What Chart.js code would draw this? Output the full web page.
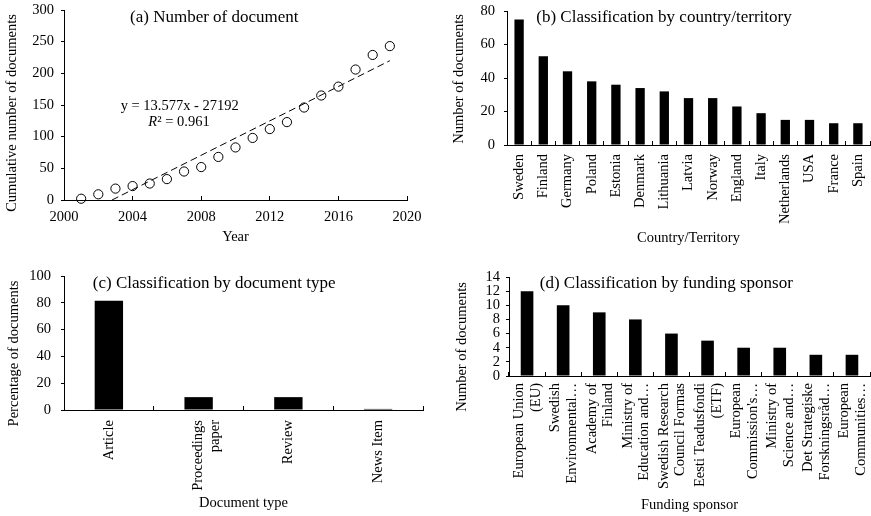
<!DOCTYPE html>
<html><head><meta charset="utf-8">
<script src="https://cdn.jsdelivr.net/npm/chart.js@4.4.1/dist/chart.umd.min.js"></script>
<style>
html,body{margin:0;padding:0;background:#fff;}
body{width:871px;height:516px;position:relative;overflow:hidden;}
canvas{position:absolute;left:0;top:0;}
</style></head><body>
<canvas id="ca" width="871" height="516"></canvas>
<canvas id="cb" width="871" height="516"></canvas>
<canvas id="cc" width="871" height="516"></canvas>
<canvas id="cd" width="871" height="516"></canvas>
<script>
// ---------- data ----------
const years = [2001,2002,2003,2004,2005,2006,2007,2008,2009,2010,2011,2012,2013,2014,2015,2016,2017,2018,2019];
const cumulativeDocs = [2,9,18,22,26,33,45,52,68,83,98,112,123,146,165,179,206,229,243];
const trendYears = [2002.8, 2019];
const trendValues = [0, 220];

const countries = ['Sweden','Finland','Germany','Poland','Estonia','Denmark','Lithuania','Latvia','Norway','England','Italy','Netherlands','USA','France','Spain'];
const countryDocs = [75,53,44,38,36,34,32,28,28,23,19,15,15,13,13];

const docTypes = ['Article',['Proceedings','paper'],'Review','News Item'];
const docTypePct = [81.6,9.6,9.6,0.8];

const sponsors = [
  ['European Union','(EU)'],
  ['Swedish','Environmental\u2026'],
  ['Academy of','Finland'],
  ['Ministry of','Education and\u2026'],
  ['Swedish Research','Council Formas'],
  ['Eesti Teadusfondi','(ETF)'],
  ['European','Commission\'s\u2026'],
  ['Ministry of','Science and\u2026'],
  ['Det Strategiske','Forskningsr\u00e5d\u2026'],
  ['European','Communities\u2026']
];
const sponsorDocs = [12,10,9,8,6,5,4,4,3,3];

const yTicksA = {min:0,max:300,step:50};
const xTicksA = {min:2000,max:2020,step:4};
const yTicksB = {min:0,max:80,step:20};
const yTicksC = {min:0,max:100,step:20};
const yTicksD = {min:0,max:14,step:2};

// ---------- styling ----------
const FONT = "'Liberation Serif','Times New Roman',serif";
Chart.defaults.color = '#000';
Chart.defaults.font.family = FONT;
Chart.defaults.font.size = 14.5;

const textPlugin = {
  id: 'texts',
  afterDraw(chart, args, opts) {
    const ctx = chart.ctx;
    (opts.items || []).forEach(it => {
      ctx.save();
      ctx.fillStyle = '#000';
      ctx.translate(it.x, it.y);
      if (it.rot) ctx.rotate(it.rot);
      ctx.textBaseline = it.baseline || 'middle';
      const size = it.size || 14.5;
      const parts = it.parts || [{t: it.text}];
      let total = 0;
      parts.forEach(p => { ctx.font = (p.italic ? 'italic ' : '') + size + 'px ' + FONT; p.w = ctx.measureText(p.t).width; total += p.w; });
      let x = -total / 2;
      ctx.textAlign = 'left';
      parts.forEach(p => { ctx.font = (p.italic ? 'italic ' : '') + size + 'px ' + FONT; ctx.fillText(p.t, x, 0); x += p.w; });
      ctx.restore();
    });
  }
};

function yScale(t, width, pad) {
  return {
    min: t.min, max: t.max,
    ticks: {stepSize: t.step, autoSkip: false, padding: pad, color: '#000'},
    grid: {display: true, drawOnChartArea: false, drawTicks: true, tickLength: 3, color: '#000', lineWidth: 1},
    border: {display: true, color: '#000', width: 1},
    afterFit(s) { s.width = width; s.paddingTop = 0; s.paddingBottom = 0; }
  };
}
function xCat(height, pad, title, titlePad, labelOffset) {
  return {
    type: 'category',
    ticks: {autoSkip: false, minRotation: 90, maxRotation: 90, padding: pad, color: '#000', labelOffset: labelOffset || 0,
            font: {size: 14.5, lineHeight: 1.15}},
    grid: {display: true, drawOnChartArea: false, drawTicks: true, tickLength: -4, color: '#000', lineWidth: 1, offset: true},
    border: {display: true, color: '#000', width: 1},
    title: {display: true, text: title, color: '#000', font: {size: 14.5}, padding: {top: 0, bottom: titlePad}},
    afterFit(s) { s.height = height; s.paddingLeft = 0; s.paddingRight = 0; }
  };
}
const baseOpts = {responsive: false, animation: false, events: []};

// ---------- (a) ----------
new Chart(document.getElementById('ca'), {
  type: 'scatter',
  data: {datasets: [
    {data: years.map((y, i) => ({x: y, y: cumulativeDocs[i]})), pointStyle: 'circle', pointRadius: 4.6,
     borderColor: '#000', backgroundColor: 'rgba(0,0,0,0)', pointBorderWidth: 1, borderWidth: 1, showLine: false, clip: false},
    {data: trendYears.map((y, i) => ({x: y, y: trendValues[i]})), showLine: true, borderColor: '#000', borderWidth: 1,
     borderDash: [7, 4], pointRadius: 0, fill: false}
  ]},
  options: Object.assign({}, baseOpts, {
    layout: {padding: {left: 0, top: 10, right: 464, bottom: 266}},
    plugins: {legend: {display: false}, tooltip: {enabled: false},
      texts: {items: [
        {text: '(a) Number of document', x: 214.3, y: 17.5, size: 17},
        {text: 'y = 13.577x - 27192', x: 179.7, y: 110, baseline: 'alphabetic'},
        {parts: [{t: 'R', italic: true}, {t: '\u00b2 = 0.961'}], x: 179, y: 126, baseline: 'alphabetic'},
        {text: 'Cumulative number of documents', x: 12, y: 113, rot: -Math.PI / 2}
      ]}},
    scales: {
      x: {type: 'linear', min: xTicksA.min, max: xTicksA.max,
          ticks: {stepSize: xTicksA.step, padding: 12, color: '#000', callback: v => String(v)},
          grid: {display: true, drawOnChartArea: false, drawTicks: true, tickLength: -4, color: '#000', lineWidth: 1},
          border: {display: true, color: '#000', width: 1},
          title: {display: true, text: 'Year', color: '#000', font: {size: 14.5}, padding: {top: 0, bottom: 3.8}},
          afterFit(s) { s.height = 50; s.paddingLeft = 0; s.paddingRight = 0; }},
      y: yScale(yTicksA, 64, 7)
    }
  }),
  plugins: [textPlugin]
});

// ---------- (b) ----------
new Chart(document.getElementById('cb'), {
  type: 'bar',
  data: {labels: countries, datasets: [{data: countryDocs, backgroundColor: '#000', borderWidth: 0, barPercentage: 0.385, categoryPercentage: 1}]},
  options: Object.assign({}, baseOpts, {
    layout: {padding: {left: 440, top: 11, right: 1, bottom: 266}},
    plugins: {legend: {display: false}, tooltip: {enabled: false},
      texts: {items: [
        {text: '(b) Classification by country/territory', x: 664, y: 17.5, size: 17},
        {text: 'Number of documents', x: 459, y: 79, rot: -Math.PI / 2}
      ]}},
    scales: {x: xCat(105, 13, 'Country/Territory', 3.5), y: yScale(yTicksB, 67, 9)}
  }),
  plugins: [textPlugin]
});

// ---------- (c) ----------
new Chart(document.getElementById('cc'), {
  type: 'bar',
  data: {labels: docTypes, datasets: [{data: docTypePct, backgroundColor: '#000', borderWidth: 0, barPercentage: 0.316, categoryPercentage: 1}]},
  options: Object.assign({}, baseOpts, {
    layout: {padding: {left: 0, top: 276, right: 448, bottom: 0}},
    plugins: {legend: {display: false}, tooltip: {enabled: false},
      texts: {items: [
        {text: '(c) Classification by document type', x: 214.2, y: 283.3, size: 17},
        {text: 'Percentage of documents', x: 13.7, y: 353.5, rot: -Math.PI / 2}
      ]}},
    scales: {x: xCat(106, 14, 'Document type', 3.9), y: yScale(yTicksC, 64, 10)}
  }),
  plugins: [textPlugin]
});

// ---------- (d) ----------
new Chart(document.getElementById('cd'), {
  type: 'bar',
  data: {labels: sponsors, datasets: [{data: sponsorDocs, backgroundColor: '#000', borderWidth: 0, barPercentage: 0.35, categoryPercentage: 1}]},
  options: Object.assign({}, baseOpts, {
    layout: {padding: {left: 440, top: 277, right: 1, bottom: 0}},
    plugins: {legend: {display: false}, tooltip: {enabled: false},
      texts: {items: [
        {text: '(d) Classification by funding sponsor', x: 666.3, y: 284, size: 17},
        {text: 'Number of documents', x: 461.7, y: 347, rot: -Math.PI / 2}
      ]}},
    scales: {x: xCat(140, 11, 'Funding sponsor', 2.2, -7.5), y: yScale(yTicksD, 69, 6)}
  }),
  plugins: [textPlugin]
});
</script>
</body></html>
